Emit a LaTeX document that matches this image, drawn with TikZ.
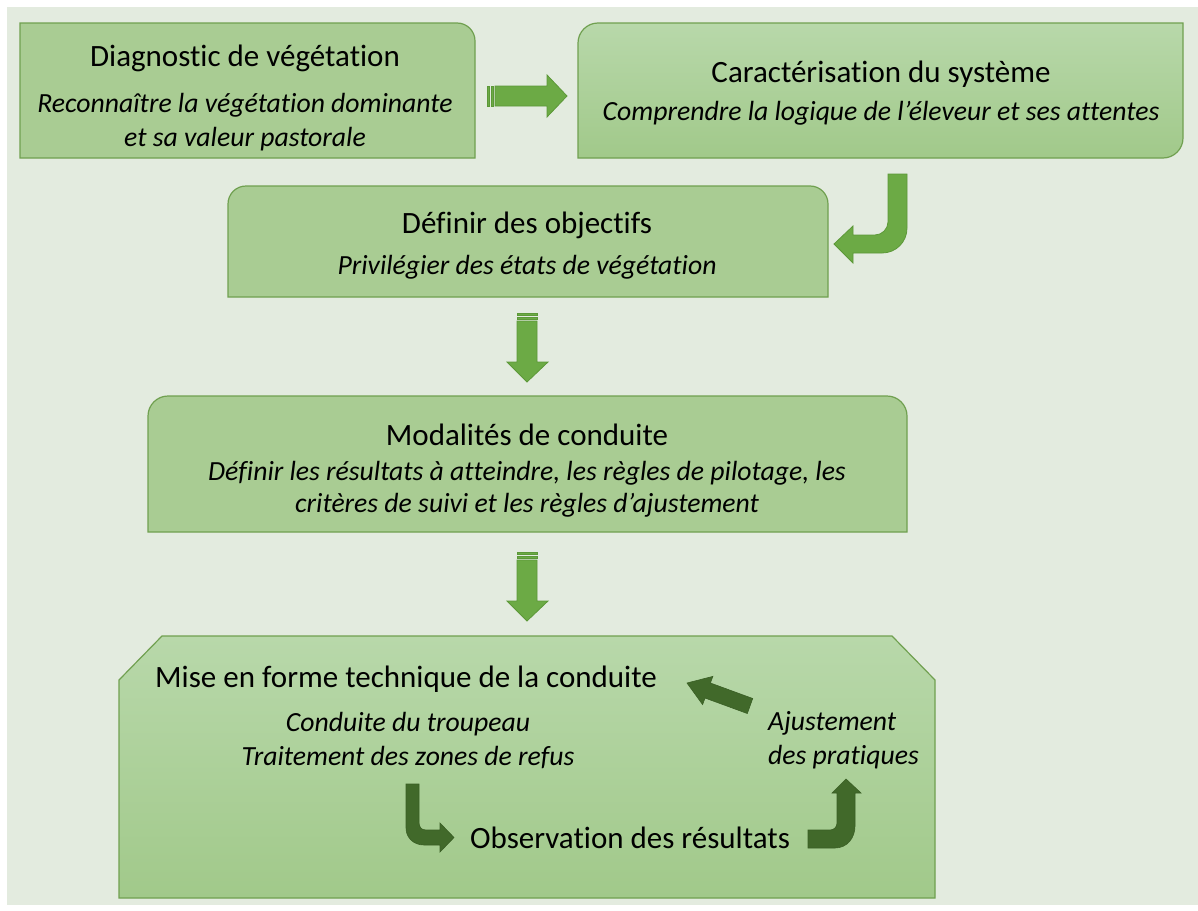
\documentclass[tikz,border=0pt]{standalone}
\usepackage{fontspec}
\setmainfont[Ligatures=NoCommon]{Carlito}
\definecolor{bgc}{HTML}{E3EBDF}
\definecolor{boxline}{HTML}{70A050}
\definecolor{boxflat}{HTML}{A9CC93}
\definecolor{boxtop}{HTML}{B8D8AA}
\definecolor{boxbot}{HTML}{A1C98A}
\definecolor{arrfill}{HTML}{6CAA45}
\definecolor{arrline}{HTML}{5C9838}
\definecolor{darkfill}{HTML}{41692A}
\definecolor{darkline}{HTML}{3A5E25}
\tikzset{
  boxshape/.style={draw=boxline, line width=1.2pt, top color=boxtop, bottom color=boxbot},
  flatbox/.style={draw=boxline, line width=1.2pt, fill=boxflat},
  greenarrow/.style={draw=arrline, line width=0.8pt, fill=arrfill},
  darkarrow/.style={draw=darkline, line width=0.6pt, fill=darkfill},
  titletext/.style={font=\fontsize{31}{37}\selectfont, inner sep=0pt},
  subtext/.style={font=\fontsize{27.7}{34}\selectfont\itshape, inner sep=0pt, align=center},
}
\begin{document}
\begin{tikzpicture}[x=1pt,y=-1pt]
\useasboundingbox (0,0) rectangle (1198,910);
\fill[white] (0,0) rectangle (1198,910);
\fill[bgc] (7,7) rectangle (1198,905);

% Box 1
\path[flatbox] (20,23) -- (457,23) .. controls (467,23) and (475,31) .. (475,41) -- (475,158) -- (20,158) -- cycle;
\node[titletext] (t1) at (245,58) {Diagnostic de végétation};
\node[subtext] (s1) at (245,122) {Reconnaître la végétation dominante\\et sa valeur pastorale};

% Box 2
\path[boxshape] (578,43) .. controls (578,32) and (587,23) .. (598,23) -- (1183,23) -- (1183,138) .. controls (1183,149) and (1174,158) .. (1163,158) -- (578,158) -- cycle;
\node[titletext] (t2) at (881,74) {Caractérisation du système};
\node[subtext] (s2) at (881,113) {Comprendre la logique de l’éleveur et ses attentes};

% Box 3
\path[flatbox] (228,204) .. controls (228,194) and (236,186) .. (246,186) -- (810,186) .. controls (820,186) and (828,194) .. (828,204) -- (828,297) -- (228,297) -- cycle;
\node[titletext] (t3) at (527,225) {Définir des objectifs};
\node[subtext] (s3) at (527,267) {Privilégier des états de végétation};

% Box 4
\path[flatbox] (148,416) .. controls (148,405) and (157,396) .. (168,396) -- (887,396) .. controls (898,396) and (907,405) .. (907,416) -- (907,532) -- (148,532) -- cycle;
\node[titletext] (t4) at (527,435) {Modalités de conduite};
\node[subtext, font=\fontsize{27.7}{32}\selectfont\itshape] (s4) at (527,489) {Définir les résultats à atteindre, les règles de pilotage, les\\critères de suivi et les règles d’ajustement};

% Box 5
\path[boxshape] (119,680) -- (162,636) -- (892,636) -- (935,680) -- (935,898) -- (119,898) -- cycle;
\node[titletext, anchor=west] (t5) at (155,679) {Mise en forme technique de la conduite};
\node[subtext] (s5) at (408,740) {Conduite du troupeau\\Traitement des zones de refus};
\node[subtext, align=left, anchor=west] (s6) at (768,740) {Ajustement\\des pratiques};
\node[titletext] (t6) at (630,838) {Observation des résultats};

% Striped right arrow
\path[greenarrow] (495,86) -- (547,86) -- (547,75) -- (567,96) -- (547,117) -- (547,106) -- (495,106) -- cycle;
\path[greenarrow] (487,86) rectangle (489.5,106);
\path[greenarrow] (491,86) rectangle (493.5,106);

% Curved arrow (box 2 -> box 3)
\path[greenarrow] (888,174) -- (907,174) -- (907,228) .. controls (907,242) and (896,253) .. (882,253) -- (853,253) -- (853,263) -- (834,244) -- (853,226) -- (853,235) -- (875,235) .. controls (882,235) and (888,229) .. (888,222) -- cycle;

% Striped down arrows
\foreach \yo in {0,239} {
  \path[greenarrow] (517,321+\yo) -- (537,321+\yo) -- (537,362+\yo) -- (548,362+\yo) -- (527,382+\yo) -- (507,362+\yo) -- (517,362+\yo) -- cycle;
  \path[greenarrow] (517,313+\yo) rectangle (537,315.5+\yo);
  \path[greenarrow] (517,317+\yo) rectangle (537,319.5+\yo);
}

% Dark arrows in box 5
\path[darkarrow] (406,784) -- (419,784) -- (419,822) .. controls (419,827) and (421,830) .. (426,830) -- (440,830) -- (440,823) -- (454,837.5) -- (440,852) -- (440,845) -- (424,845) .. controls (414,845) and (406,838) .. (406,828) -- cycle;
\path[darkarrow] (808,830) -- (830,830) .. controls (834,830) and (837,827) .. (837,823) -- (837,793) -- (832,793) -- (846,779) -- (861,793) -- (855,793) -- (855,826) .. controls (855,838) and (847,848) .. (835,848) -- (808,848) -- cycle;
\path[darkarrow] (752.7,698.5) -- (710.4,683) -- (712.8,676.4) -- (687,683) -- (702.6,704.6) -- (705,698) -- (747.3,713.5) -- cycle;
\end{tikzpicture}
\end{document}
